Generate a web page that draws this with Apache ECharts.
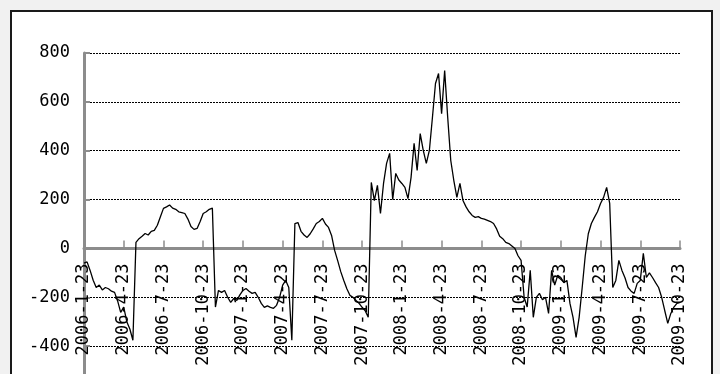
<!DOCTYPE html>
<html>
<head>
<meta charset="utf-8">
<script src="https://cdn.jsdelivr.net/npm/echarts@6/dist/echarts.min.js"></script>
<style>
html,body{margin:0;padding:0;background:#f1f1f1;}
#chart{width:720px;height:374px;}
</style>
</head>
<body>
<div id="chart"></div>
<script>
// Quarterly tick labels (x axis)
const tickLabels = ['2006-1-23','2006-4-23','2006-7-23','2006-10-23','2007-1-23','2007-4-23','2007-7-23','2007-10-23','2008-1-23','2008-4-23','2008-7-23','2008-10-23','2009-1-23','2009-4-23','2009-7-23','2009-10-23'];
const weeksPerQuarter = 13;
// Weekly values, starting 2006-1-23
const values = [
-60,-55,-90,-130,-160,-150,-170,-160,-165,-175,
-180,-215,-262,-240,-300,-330,-376,25,40,50,
61,55,70,74,95,130,164,170,178,165,
160,150,147,143,120,90,78,82,110,143,
150,160,165,-240,-172,-180,-172,-200,-221,-205,
-213,-190,-172,-164,-175,-184,-180,-200,-225,-241,
-235,-241,-245,-233,-200,-150,-131,-160,-376,102,
106,70,55,45,60,80,102,110,123,100,
86,53,-8,-50,-95,-131,-165,-192,-200,-213,
-225,-241,-255,-282,270,196,258,143,266,348,
389,200,307,280,266,250,204,290,430,319,
470,401,348,401,536,675,716,552,728,536,
360,278,209,266,196,170,150,135,127,130,
123,120,115,110,102,80,50,40,25,20,
10,0,-30,-49,-200,-240,-90,-282,-200,-184,
-210,-200,-266,-90,-150,-110,-119,-140,-131,-225,
-282,-364,-282,-160,-30,60,102,127,150,184,
209,250,184,-160,-131,-49,-90,-120,-160,-175,
-184,-143,-131,-20,-119,-100,-119,-140,-160,-200,
-254,-307,-266,-240,-225,-221
];
const yMin = -600, yMax = 800, yStep = 200;

const seriesData = values.map((v, i) => [i, v]);
const font = 'DejaVu Sans Mono';
const gridTop = 53, gridHeight = 342;
// move the x axis (line, ticks, labels) from the grid bottom up to y = 0
const xAxisOffset = -gridHeight * (0 - yMin) / (yMax - yMin);

const chart = echarts.init(document.getElementById('chart'), null, {renderer: 'canvas'});
chart.setOption({
  animation: false,
  backgroundColor: '#f1f1f1',
  graphic: [{
    type: 'rect', z: -10, silent: true,
    shape: {x: 11, y: 11, width: 701, height: 420},
    style: {fill: '#ffffff', stroke: '#1a1a1a', lineWidth: 2}
  }],
  grid: {left: 84, top: gridTop, width: 596, height: gridHeight, containLabel: false, outerBoundsMode: 'none'},
  xAxis: {
    type: 'value', min: 0, max: (tickLabels.length - 1) * weeksPerQuarter, interval: weeksPerQuarter,
    position: 'bottom', offset: xAxisOffset,
    axisLine: {onZero: false, lineStyle: {color: '#8c8c8c', width: 3}},
    axisTick: {inside: true, length: 8, lineStyle: {color: '#8c8c8c', width: 1.5}},
    splitLine: {show: false},
    axisLabel: {
      rotate: 90, margin: 15, color: '#000', fontFamily: font, fontSize: 17,
      showMinLabel: true, showMaxLabel: true,
      formatter: v => tickLabels[Math.round(v / weeksPerQuarter)] || ''
    }
  },
  yAxis: {
    type: 'value', min: yMin, max: yMax, interval: yStep,
    axisLine: {show: true, lineStyle: {color: '#8c8c8c', width: 3}},
    axisTick: {show: true, inside: true, length: 6, lineStyle: {color: '#8c8c8c', width: 2}},
    splitLine: {show: true, lineStyle: {color: '#000', width: 1, type: [2, 1]}},
    axisLabel: {margin: 14, color: '#000', fontFamily: font, fontSize: 17}
  },
  series: [{
    type: 'line', data: seriesData, showSymbol: false, symbol: 'none',
    lineStyle: {color: '#000', width: 1.3}, clip: true
  }]
});
</script>
</body>
</html>
